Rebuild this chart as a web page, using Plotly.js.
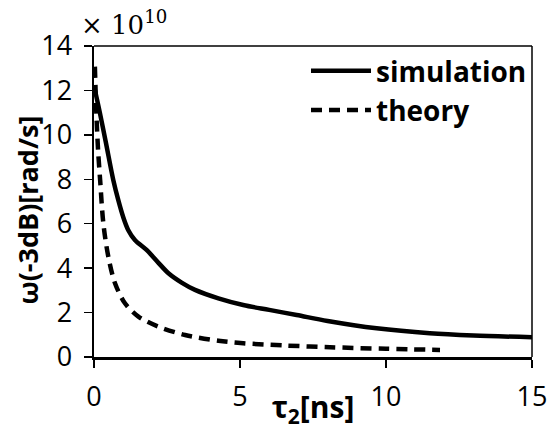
<!DOCTYPE html>
<html>
<head>
<meta charset="utf-8">
<script src="https://cdn.plot.ly/plotly-3.0.1.min.js"></script>
<style>html,body{margin:0;padding:0;background:#fff;}#plot{width:548px;height:430px;}</style>
</head>
<body>
<div id="plot"></div>
<script>
// Values in units of 1e10 rad/s
const simT = [0, 0.2, 0.4, 0.66, 0.83, 1.0, 1.17, 1.4, 1.8, 2.2, 2.55, 3.0, 3.46, 4.26, 5.11, 6.0, 6.94, 8.0, 9.68, 11.5, 13.0, 15.0];
const simV = [12.2, 11.0, 9.7, 7.97, 7.07, 6.3, 5.72, 5.27, 4.82, 4.25, 3.77, 3.35, 3.02, 2.64, 2.34, 2.12, 1.89, 1.62, 1.29, 1.07, 0.97, 0.89];
const theoT = [0.03, 0.08, 0.14, 0.21, 0.32, 0.49, 0.72, 1.06, 1.52, 2.2, 3.12, 4.26, 5.11, 6.5, 8.08, 10.0, 11.85];
const theoV = [13.07, 11.0, 9.3, 7.97, 6.02, 4.52, 3.32, 2.42, 1.82, 1.37, 0.99, 0.73, 0.62, 0.52, 0.44, 0.37, 0.32];
const xTicks = [0, 5, 10, 15];
const yTicks = [0, 2, 4, 6, 8, 10, 12, 14];
const seriesNames = ['simulation', 'theory'];
const xTitle = 'τ<sub>2</sub>[ns]';
const yTitle = 'ω(-3dB)[rad/s]';

const font = '"Open Sans", Lato, sans-serif';

const traces = [
  {x: simT, y: simV, name: seriesNames[0], mode: 'lines', line: {color: '#000', width: 4.5, shape: 'spline', smoothing: 0.9}},
  {x: theoT, y: theoV, name: seriesNames[1], mode: 'lines', line: {color: '#000', width: 4.5, dash: '11px,7px', shape: 'spline', smoothing: 0.9}}
];

const layout = {
  width: 548, height: 430,
  margin: {l: 94, r: 16, t: 46, b: 73},
  paper_bgcolor: '#fff', plot_bgcolor: '#fff',
  font: {family: font, color: '#000', size: 28},
  showlegend: true,
  legend: {x: 1.0, xanchor: 'right', y: 1.0, yanchor: 'top', bgcolor: 'rgba(0,0,0,0)',
           font: {family: font, size: 28, color: '#000', weight: 'bold'}, itemwidth: 60, tracegroupgap: 0},
  xaxis: {range: [0, 15], tickvals: xTicks, ticktext: xTicks.map(String), ticks: 'outside', ticklen: 8, tickwidth: 1.5,
          tickcolor: '#000', showline: true, linecolor: '#000', linewidth: 2.5, showgrid: false, zeroline: false,
          tickfont: {family: font, size: 27}, ticklabelstandoff: 6,
          title: {text: xTitle, font: {family: font, size: 30, weight: 'bold'}, standoff: 0}},
  yaxis: {range: [0, 14], tickvals: yTicks, ticktext: yTicks.map(String), ticks: 'outside', ticklen: 8, tickwidth: 1.5,
          tickcolor: '#000', showline: true, linecolor: '#000', linewidth: 2.5, showgrid: false, zeroline: false,
          tickfont: {family: font, size: 27}, ticklabelstandoff: 6},
  shapes: [
    {type: 'line', xref: 'paper', yref: 'paper', x0: 0, x1: 1, y0: 1, y1: 1, line: {color: '#000', width: 1.5}},
    {type: 'line', xref: 'paper', yref: 'paper', x0: 1, x1: 1, y0: 0, y1: 1, line: {color: '#000', width: 1.5}}
  ],
  annotations: [
    {xref: 'paper', yref: 'paper', x: -0.035, y: 1.0, xanchor: 'left', yanchor: 'bottom', yshift: 4, showarrow: false,
     text: '× 10<sup>10</sup>', font: {family: '"DejaVu Serif", "Liberation Serif", serif', size: 26, color: '#000'}},
    {xref: 'paper', yref: 'paper', x: -0.1507, y: 0.474, xanchor: 'center', yanchor: 'middle', textangle: -90, showarrow: false,
     text: yTitle, font: {family: font, size: 27, weight: 'bold', color: '#000'}}
  ]
};

Plotly.newPlot('plot', traces, layout, {displayModeBar: false, staticPlot: true});
</script>
</body>
</html>
